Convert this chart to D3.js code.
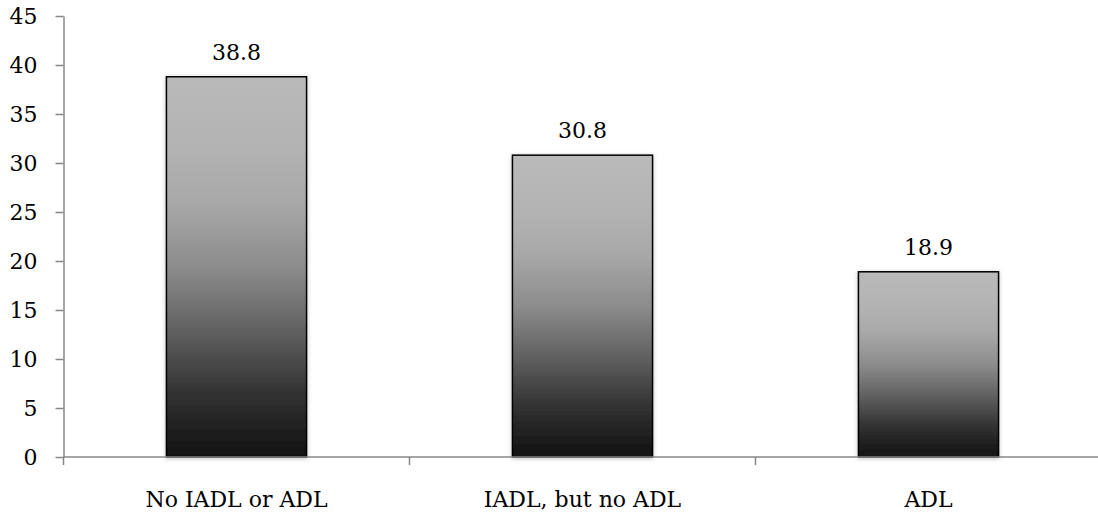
<!DOCTYPE html>
<html><head><meta charset="utf-8">
<script src="https://cdn.jsdelivr.net/npm/d3@7/dist/d3.min.js"></script>
<style>body{margin:0;background:#fff}svg{display:block}</style>
</head><body>
<script>
const categories = ["No IADL or ADL", "IADL, but no ADL", "ADL"];
const values = [38.8, 30.8, 18.9];
const yTicks = [0, 5, 10, 15, 20, 25, 30, 35, 40, 45];

const W = 1098, H = 514;
const mLeft = 63.5, mRight = 1101.5, mTop = 16, mBottom = 457;
const font = "'DejaVu Serif', serif";
const fs = 22;

const svg = d3.select("body").append("svg").attr("width", W).attr("height", H);
const defs = svg.append("defs");
const grad = defs.append("linearGradient").attr("id", "g").attr("x1", 0).attr("y1", 0).attr("x2", 0).attr("y2", 1);
[[0, "#bababa"], [0.2, "#b2b2b2"], [0.33, "#a8a8a8"], [0.5, "#8c8c8c"], [0.67, "#606060"], [0.83, "#333333"], [1, "#111111"]].forEach(([o, c]) =>
  grad.append("stop").attr("offset", o).attr("stop-color", c));
const f = defs.append("filter").attr("id", "sh").attr("x", "-10%").attr("y", "-10%").attr("width", "120%").attr("height", "120%");
f.append("feDropShadow").attr("dx", 0).attr("dy", 1).attr("stdDeviation", 2).attr("flood-color", "#000").attr("flood-opacity", 0.25);

const x = d3.scaleBand().domain(categories).range([mLeft, mRight]).padding(0);
const y = d3.scaleLinear().domain([0, 45]).range([mBottom, mTop]);
const barW = x.bandwidth() * 0.405;

// bars
svg.selectAll("rect.bar").data(values).join("rect")
  .attr("x", (d, i) => x(categories[i]) + x.bandwidth() / 2 - barW / 2)
  .attr("y", d => y(d))
  .attr("width", barW)
  .attr("height", d => y(0) - y(d))
  .attr("fill", "url(#g)")
  .attr("stroke", "#000").attr("stroke-width", 1.5)
  .attr("filter", "url(#sh)");

// y axis
const ya = svg.append("g").attr("transform", `translate(${mLeft},0)`)
  .call(d3.axisLeft(y).tickValues(yTicks).tickSize(8).tickPadding(18).tickSizeOuter(0));
ya.select(".domain").attr("stroke", "#878787").attr("stroke-width", 1.5);
ya.selectAll(".tick line").attr("stroke", "#878787").attr("stroke-width", 1.5);
ya.selectAll("text").attr("font-family", font).attr("font-size", fs).attr("fill", "#000");

// x axis
const xa = svg.append("g").attr("transform", `translate(0,${mBottom})`);
xa.append("line").attr("x1", mLeft).attr("x2", W).attr("y1", 0).attr("y2", 0)
  .attr("stroke", "#878787").attr("stroke-width", 1.5);
xa.selectAll("line.t").data(categories).join("line").attr("class", "t")
  .attr("x1", d => x(d)).attr("x2", d => x(d)).attr("y1", 0).attr("y2", 8)
  .attr("stroke", "#878787").attr("stroke-width", 1.5);
xa.selectAll("text").data(categories).join("text")
  .attr("x", d => x(d) + x.bandwidth() / 2).attr("y", 49.5)
  .attr("text-anchor", "middle").attr("font-family", font).attr("font-size", fs)
  .text(d => d);

// value labels
svg.selectAll("text.v").data(values).join("text").attr("class", "v")
  .attr("x", (d, i) => x(categories[i]) + x.bandwidth() / 2)
  .attr("y", d => y(d) - 17)
  .attr("text-anchor", "middle").attr("font-family", font).attr("font-size", fs)
  .text(d => d.toFixed(1));
</script>
</body></html>
